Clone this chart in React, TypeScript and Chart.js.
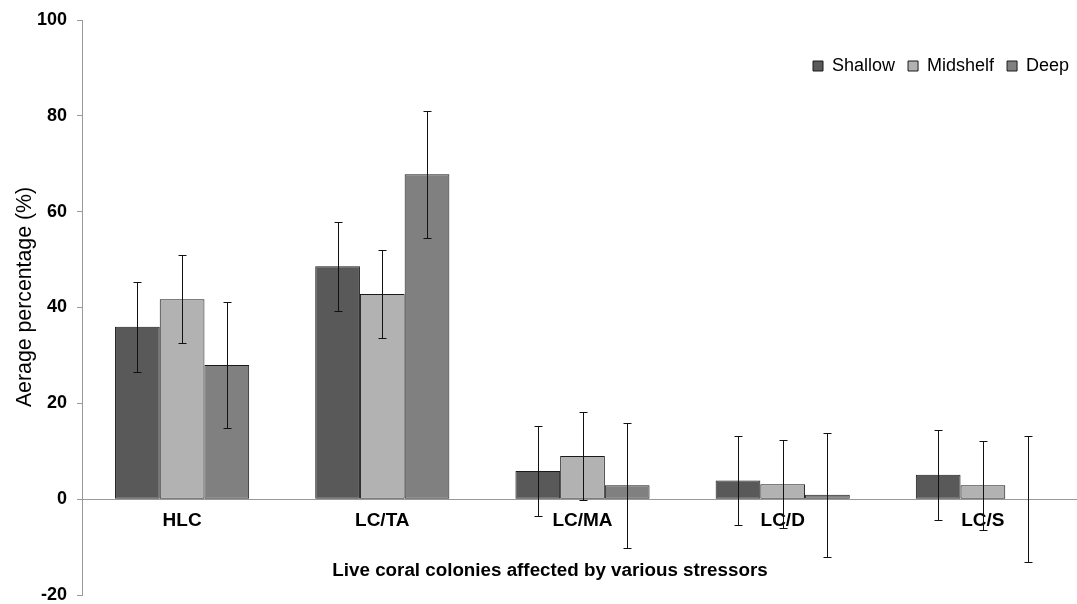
import React, { useEffect, useRef } from 'react';
import { Chart, registerables } from 'chart.js';

Chart.register(...registerables);

const categories = ['HLC', 'LC/TA', 'LC/MA', 'LC/D', 'LC/S'];
const seriesNames = ['Shallow', 'Midshelf', 'Deep'];
const shallow = [36.0, 48.6, 5.9, 3.9, 5.1];
const shallowErr = [9.4, 9.3, 9.4, 9.3, 9.4];
const midshelf = [41.7, 42.8, 9.0, 3.1, 2.9];
const midshelfErr = [9.2, 9.2, 9.2, 9.2, 9.3];
const deep = [28.0, 67.8, 2.9, 0.9, 0];
const deepErr = [13.1, 13.3, 13.0, 13.0, 13.1];
const yTicks = [-20, 0, 20, 40, 60, 80, 100];
const xTitle = 'Live coral colonies affected by various stressors';
const yTitle = 'Aerage percentage (%)';

const FONT = '"Liberation Sans", Arial, sans-serif';

const errorBarPlugin = {
  id: 'errorBars',
  afterDatasetsDraw(chart: any) {
    const ctx = chart.ctx;
    const yScale = chart.scales.y;
    chart.data.datasets.forEach((ds: any, i: number) => {
      const meta = chart.getDatasetMeta(i);
      const errs: number[] = ds.errors || [];
      meta.data.forEach((bar: any, j: number) => {
        const v = ds.data[j];
        const e = errs[j];
        if (e == null) return;
        const x = Math.round(bar.x) + 0.5;
        const top = Math.round(yScale.getPixelForValue(v + e)) + 0.5;
        const bot = Math.round(yScale.getPixelForValue(v - e)) + 0.5;
        ctx.save();
        ctx.strokeStyle = '#111';
        ctx.lineWidth = 1;
        ctx.beginPath();
        ctx.moveTo(x, top);
        ctx.lineTo(x, bot);
        ctx.moveTo(x - 4, top);
        ctx.lineTo(x + 4, top);
        ctx.moveTo(x - 4, bot);
        ctx.lineTo(x + 4, bot);
        ctx.stroke();
        ctx.restore();
      });
    });
  },
};

const legendPlacer = {
  id: 'legendPlacer',
  afterLayout(chart: any) {
    const lg = chart.legend;
    if (!lg) return;
    lg.left = 800;
    lg.right = chart.width + 60;
    lg.width = lg.right - lg.left;
    lg.top = 44;
    lg.bottom = 84;
    lg.height = 40;
  },
};

const axisTitles = {
  id: 'axisTitles',
  afterDraw(chart: any) {
    const ctx = chart.ctx;
    ctx.save();
    ctx.fillStyle = '#000';
    ctx.textAlign = 'center';
    ctx.textBaseline = 'middle';
    ctx.font = `bold 18.8px ${FONT}`;
    ctx.fillText(xTitle, 550, 571);
    ctx.translate(25, 297);
    ctx.rotate(-Math.PI / 2);
    ctx.font = `21.3px ${FONT}`;
    ctx.fillText(yTitle, 0, 0);
    ctx.restore();
  },
};

export default function App() {
  const ref = useRef<HTMLCanvasElement>(null);

  useEffect(() => {
    if (!ref.current) return;
    const mk = (label: string, data: number[], errors: number[], color: string) => ({
      label,
      data,
      errors,
      backgroundColor: color,
      borderColor: '#1a1a1a',
      borderWidth: 1,
      borderSkipped: false,
      categoryPercentage: 0.67,
      barPercentage: 1.0,
    });
    const chart = new Chart(ref.current, {
      type: 'bar',
      data: {
        labels: categories,
        datasets: [
          mk(seriesNames[0], shallow, shallowErr, '#595959'),
          mk(seriesNames[1], midshelf, midshelfErr, '#b2b2b2'),
          mk(seriesNames[2], deep, deepErr, '#808080'),
        ] as any,
      },
      options: {
        animation: false,
        responsive: false,
        devicePixelRatio: 1,
        layout: { padding: { left: 0, right: 0, top: 20, bottom: 9 } },
        font: { family: FONT },
        plugins: {
          tooltip: { enabled: false },
          legend: {
            display: true,
            position: 'top',
            align: 'start',
            maxHeight: 0.001,
            labels: {
              color: '#000',
              font: { family: FONT, size: 18 },
              boxWidth: 10,
              boxHeight: 10,
              padding: 13,
            },
          },
        },
        scales: {
          x: {
            position: { y: 0 } as any,
            offset: true,
            grid: { display: false, drawTicks: false },
            border: { display: true, color: '#999', width: 1 },
            ticks: {
              color: '#000',
              font: { family: FONT, size: 19, weight: 'bold' },
              padding: 10,
              maxRotation: 0,
              autoSkip: false,
            },
            title: { display: false },
          },
          y: {
            min: -20,
            max: 100,
            afterBuildTicks: (scale: any) => {
              scale.ticks = yTicks.map((v) => ({ value: v }));
            },
            afterFit: (scale: any) => {
              scale.width = 82;
            },
            grid: { display: true, drawOnChartArea: false, drawTicks: true, tickLength: 5, color: '#999' },
            border: { display: true, color: '#999', width: 1 },
            ticks: {
              color: '#000',
              font: { family: FONT, size: 18, weight: 'bold', lineHeight: 1 },
              padding: 10,
            },
            title: { display: false },
          },
        },
      } as any,
      plugins: [errorBarPlugin, legendPlacer, axisTitles],
    });
    return () => chart.destroy();
  }, []);

  return (
    <div style={{ position: 'absolute', left: 0, top: 0, width: 1077, height: 604, overflow: 'hidden', background: '#fff' }}>
      <canvas ref={ref} width={1083} height={614} style={{ display: 'block' }} />
    </div>
  );
}
